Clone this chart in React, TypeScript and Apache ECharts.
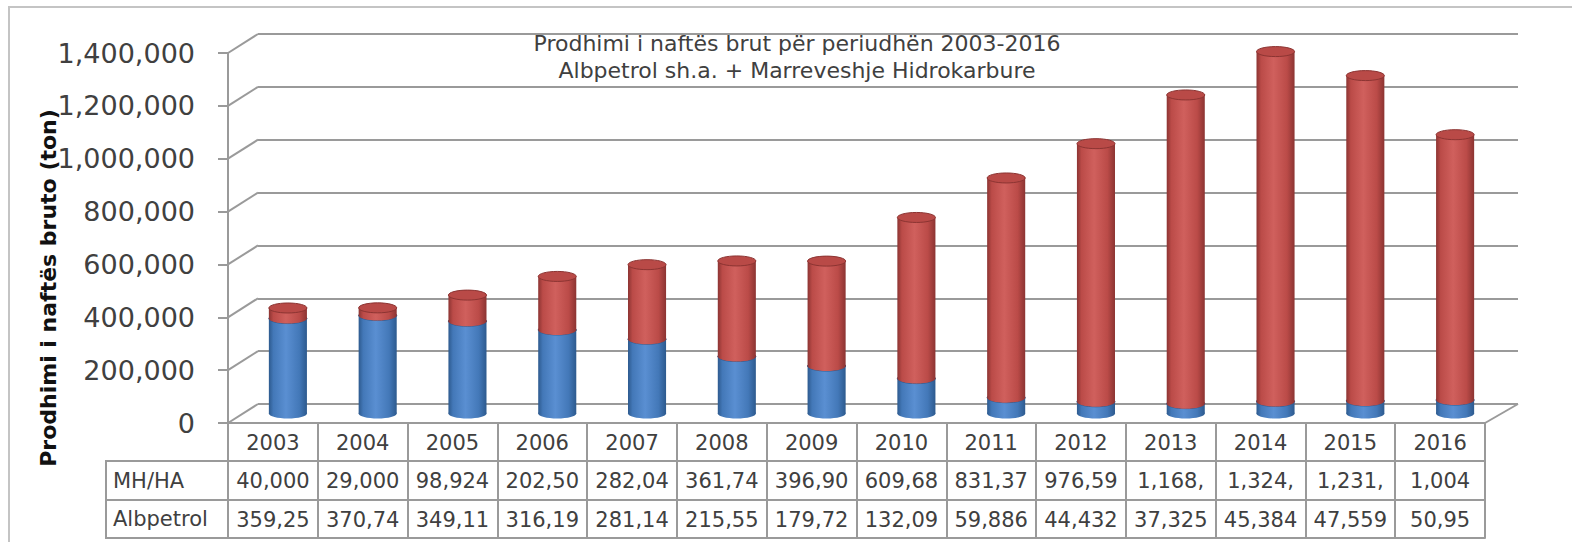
import React, { useEffect, useRef } from 'react';
import * as echarts from 'echarts';

// ---------- data ----------
const years = ['2003', '2004', '2005', '2006', '2007', '2008', '2009', '2010', '2011', '2012', '2013', '2014', '2015', '2016'];
const mhhaValues = [40000, 29000, 98924, 202500, 282040, 361740, 396900, 609680, 831370, 976590, 1168000, 1324000, 1231000, 1004000];
const albpetrolValues = [359250, 370740, 349110, 316190, 281140, 215550, 179720, 132090, 59886, 44432, 37325, 45384, 47559, 50950];
// table texts exactly as shown (clipped cells)
const mhhaLabels = ['40,000', '29,000', '98,924', '202,50', '282,04', '361,74', '396,90', '609,68', '831,37', '976,59', '1,168,', '1,324,', '1,231,', '1,004'];
const albpetrolLabels = ['359,25', '370,74', '349,11', '316,19', '281,14', '215,55', '179,72', '132,09', '59,886', '44,432', '37,325', '45,384', '47,559', '50,95'];
const rowHeaders = ['MH/HA', 'Albpetrol'];
const yTicks = [0, 200000, 400000, 600000, 800000, 1000000, 1200000, 1400000];
const yTickLabels = ['0', '200,000', '400,000', '600,000', '800,000', '1,000,000', '1,200,000', '1,400,000'];
const titleLines = ['Prodhimi i naftës brut për periudhën 2003-2016', 'Albpetrol sh.a. + Marreveshje Hidrokarbure'];
const yAxisTitle = 'Prodhimi i naftës bruto (ton)';

// ---------- layout ----------
const FONT = '"DejaVu Sans", sans-serif';
const PLOT_L = 228;
const PLOT_T = 53;
const PLOT_W = 1257;
const PLOT_H = 370;
const DEPTH_X = 30;
const DEPTH_Y = -19;
const ROW1 = 38;
const ROW2 = 77;
const ROW3 = 115;
const HEAD_L = 106;
const LINE = '#9a9a9a';
const TEXT = '#404040';

function cylinder(colors: { dark: string; mid: string; light: string; cap: string; capStroke: string }) {
  return (params: any, api: any) => {
    const i = api.value(0);
    const lo = api.value(1);
    const hi = api.value(2);
    const pTop = api.coord([i, hi]);
    const pBot = api.coord([i, lo]);
    const band = api.size([1, 0])[0];
    const rx = band * 0.212;
    const ry = 5;
    const cx = pTop[0] + DEPTH_X / 2;
    const yT = pTop[1] + DEPTH_Y / 2;
    const yB = pBot[1] + DEPTH_Y / 2;
    const grad = new echarts.graphic.LinearGradient(0, 0, 1, 0, [
      { offset: 0, color: colors.dark },
      { offset: 0.12, color: colors.mid },
      { offset: 0.45, color: colors.light },
      { offset: 0.8, color: colors.mid },
      { offset: 1, color: colors.dark },
    ]);
    return {
      type: 'group',
      children: [
        { type: 'ellipse', shape: { cx, cy: yB, rx, ry }, style: { fill: grad } },
        { type: 'rect', shape: { x: cx - rx, y: yT, width: rx * 2, height: yB - yT }, style: { fill: grad } },
        { type: 'ellipse', shape: { cx, cy: yT, rx, ry }, style: { fill: colors.cap, stroke: colors.capStroke, lineWidth: 1 } },
      ],
    };
  };
}

export default function App() {
  const ref = useRef<HTMLDivElement>(null);

  useEffect(() => {
    if (!ref.current) return;
    const chart = echarts.init(ref.current, undefined, { renderer: 'svg' });

    const axisLineStyle = { color: LINE, width: 2 };
    const tableLabel = { fontSize: 21, color: TEXT, fontFamily: FONT, margin: 9, interval: 0 };

    chart.setOption({
      animation: false,
      backgroundColor: '#ffffff',
      title: {
        text: titleLines.join('\n'),
        left: 792,
        top: 25,
        textAlign: 'center',
        textStyle: { fontSize: 22, fontWeight: 'normal', color: TEXT, fontFamily: FONT, lineHeight: 27 },
      },
      grid: [
        { left: PLOT_L, top: PLOT_T, width: PLOT_W, height: PLOT_H },
        { left: PLOT_L + DEPTH_X, top: PLOT_T + DEPTH_Y, width: PLOT_W + 3, height: PLOT_H },
      ],
      xAxis: [
        {
          gridIndex: 0, type: 'category', data: years, position: 'bottom',
          axisLine: { show: true, onZero: false, lineStyle: axisLineStyle },
          axisTick: { show: true, length: ROW3, alignWithLabel: false, interval: 0, lineStyle: axisLineStyle },
          axisLabel: tableLabel,
        },
        {
          gridIndex: 0, type: 'category', data: mhhaLabels, position: 'bottom', offset: ROW1,
          axisLine: { show: true, onZero: false, lineStyle: axisLineStyle },
          axisTick: { show: false },
          axisLabel: tableLabel,
        },
        {
          gridIndex: 0, type: 'category', data: albpetrolLabels, position: 'bottom', offset: ROW2,
          axisLine: { show: true, onZero: false, lineStyle: axisLineStyle },
          axisTick: { show: false },
          axisLabel: tableLabel,
        },
        {
          gridIndex: 0, type: 'category', data: years, position: 'bottom', offset: ROW3,
          axisLine: { show: true, onZero: false, lineStyle: axisLineStyle },
          axisTick: { show: false },
          axisLabel: { show: false },
        },
        { gridIndex: 1, type: 'category', data: years, show: false },
      ],
      yAxis: [
        {
          gridIndex: 0, type: 'value', min: 0, max: 1400000, interval: 200000,
          axisLine: { show: true, lineStyle: axisLineStyle },
          axisTick: { show: true, length: 10, lineStyle: axisLineStyle },
          axisLabel: {
            fontSize: 27, color: TEXT, fontFamily: FONT, margin: 33,
            formatter: (v: number) => yTickLabels[yTicks.indexOf(v)] ?? '',
          },
          splitLine: { show: false },
        },
        {
          gridIndex: 1, type: 'value', min: 0, max: 1400000, interval: 200000,
          axisLine: { show: false }, axisTick: { show: false }, axisLabel: { show: false },
          splitLine: { show: true, lineStyle: axisLineStyle },
        },
      ],
      series: [
        {
          name: 'walls',
          type: 'custom',
          xAxisIndex: 0,
          yAxisIndex: 0,
          silent: true,
          clip: false,
          data: yTicks.map((v) => [0, v]),
          encode: { x: 0, y: 1 },
          renderItem: (params: any, api: any) => {
            const cs = params.coordSys;
            const v = api.value(1);
            const y = api.coord([0, v])[1];
            const children: any[] = [
              { type: 'line', shape: { x1: cs.x, y1: y, x2: cs.x + DEPTH_X, y2: y + DEPTH_Y }, style: { stroke: LINE, lineWidth: 2 } },
            ];
            if (v === 0) {
              children.push({
                type: 'line',
                shape: { x1: cs.x + cs.width, y1: y, x2: cs.x + cs.width + DEPTH_X + 3, y2: y + DEPTH_Y },
                style: { stroke: LINE, lineWidth: 2 },
              });
            }
            return { type: 'group', children };
          },
        },
        {
          name: 'Albpetrol',
          type: 'custom',
          xAxisIndex: 0,
          yAxisIndex: 0,
          clip: false,
          data: albpetrolValues.map((v, i) => [i, 0, v]),
          encode: { x: 0, y: [1, 2] },
          renderItem: cylinder({ dark: '#2d5a8e', mid: '#4378b8', light: '#5a8fd2', cap: '#4a7fc0', capStroke: '#2d5a8e' }),
        },
        {
          name: 'MH/HA',
          type: 'custom',
          xAxisIndex: 0,
          yAxisIndex: 0,
          clip: false,
          data: mhhaValues.map((v, i) => [i, albpetrolValues[i], albpetrolValues[i] + v]),
          encode: { x: 0, y: [1, 2] },
          renderItem: cylinder({ dark: '#8c3432', mid: '#bb4b48', light: '#d0605d', cap: '#b94a47', capStroke: '#8c3432' }),
        },
      ],
      graphic: [
        {
          type: 'rect', silent: true,
          shape: { x: 9, y: 7, width: 1700, height: 700 },
          style: { fill: 'none', stroke: '#c4c4c4', lineWidth: 2 },
        },
        {
          type: 'polyline', silent: true,
          shape: { points: [[PLOT_L, PLOT_T + PLOT_H + ROW1], [HEAD_L, PLOT_T + PLOT_H + ROW1], [HEAD_L, PLOT_T + PLOT_H + ROW3], [PLOT_L, PLOT_T + PLOT_H + ROW3]] },
          style: { fill: 'none', stroke: LINE, lineWidth: 2 },
        },
        {
          type: 'line', silent: true,
          shape: { x1: HEAD_L, y1: PLOT_T + PLOT_H + ROW2, x2: PLOT_L, y2: PLOT_T + PLOT_H + ROW2 },
          style: { stroke: LINE, lineWidth: 2 },
        },
        {
          type: 'text', silent: true,
          style: {
            text: rowHeaders[0], x: HEAD_L + 7, y: PLOT_T + PLOT_H + (ROW1 + ROW2) / 2,
            fill: TEXT, font: `21px ${FONT}`, textAlign: 'left', textVerticalAlign: 'middle',
          },
        },
        {
          type: 'text', silent: true,
          style: {
            text: rowHeaders[1], x: HEAD_L + 7, y: PLOT_T + PLOT_H + (ROW2 + ROW3) / 2,
            fill: TEXT, font: `21px ${FONT}`, textAlign: 'left', textVerticalAlign: 'middle',
          },
        },
        {
          type: 'text', silent: true,
          x: 48, y: 288, rotation: Math.PI / 2,
          style: {
            text: yAxisTitle, x: 0, y: 0,
            fill: '#111', font: `bold 22px ${FONT}`, textAlign: 'center', textVerticalAlign: 'middle',
          },
        },
      ],
    });

    return () => chart.dispose();
  }, []);

  return <div ref={ref} style={{ position: 'absolute', left: 0, top: 0, width: 1572, height: 542 }} />;
}
